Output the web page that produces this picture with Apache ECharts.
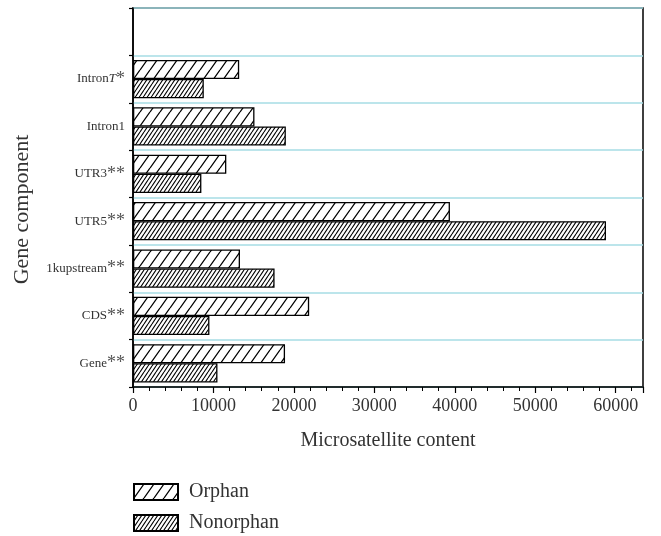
<!DOCTYPE html>
<html>
<head>
<meta charset="utf-8">
<script src="https://cdn.jsdelivr.net/npm/echarts@6/dist/echarts.min.js"></script>
<style>
  html, body { margin: 0; padding: 0; background: #fff; }
  #chart { width: 661px; height: 536px; }
</style>
</head>
<body>
<div id="chart"></div>
<script>
// Gene components, bottom to top; the top slot is left empty.
const categories = ['Gene**', 'CDS**', '1kupstream**', 'UTR5**', 'UTR3**', 'Intron1', 'IntronT*', ''];
const orphan    = [18900, 21900, 13300, 39400, 11600, 15100, 13200, null];
const nonorphan = [10500,  9500, 17600, 58800,  8500, 19000,  8800, null];
const xTicks = { min: 0, max: 63400, interval: 10000 };

const SERIF = '"Liberation Serif", "DejaVu Serif", serif';

// Diagonal hatch tile: "/" strokes repeating every w pixels.
function hatch(w, h, lw) {
  const c = document.createElement('canvas');
  c.width = w; c.height = h;
  const g = c.getContext('2d');
  g.fillStyle = '#fff';
  g.fillRect(0, 0, w, h);
  g.strokeStyle = '#000';
  g.lineWidth = lw;
  g.beginPath();
  for (const dx of [-w, 0, w]) {
    g.moveTo(dx, h);
    g.lineTo(dx + w, 0);
  }
  g.stroke();
  return c;
}

const sparseFill = { image: hatch(10, 14, 1.3), repeat: 'repeat' };
const denseFill  = { image: hatch(4, 6, 1.1), repeat: 'repeat' };

// Category label: plain name, optional italic T, enlarged significance stars.
function catLabel(v) {
  if (!v) return '';
  const m = v.match(/^(.*?)(\*+)$/);
  const name = m ? m[1] : v;
  const stars = m ? m[2] : '';
  let out = name === 'IntronT' ? '{n|Intron}{it|T}' : '{n|' + name + '}';
  if (stars) out += '{s|' + stars + '}';
  return out;
}

const chart = echarts.init(document.getElementById('chart'), null, { renderer: 'canvas' });
chart.setOption({
  animation: false,
  backgroundColor: '#fff',
  grid: {
    left: 133, right: 18, top: 8, bottom: 149,
    show: true, borderColor: '#000', borderWidth: 1.5, backgroundColor: 'transparent'
  },
  legend: {
    data: ['Orphan', 'Nonorphan'],
    orient: 'vertical',
    left: 133, top: 482, height: 120,
    padding: 0,
    itemWidth: 44, itemHeight: 16, itemGap: 11,
    icon: 'rect',
    textStyle: { fontFamily: SERIF, fontSize: 20, lineHeight: 17, color: '#333', padding: [0, 0, 0, 6] }
  },
  xAxis: {
    type: 'value',
    min: xTicks.min, max: xTicks.max, interval: xTicks.interval,
    name: 'Microsatellite content',
    nameLocation: 'middle', nameGap: 44,
    nameTextStyle: { fontFamily: SERIF, fontSize: 20, color: '#333' },
    axisLine: { show: true, lineStyle: { color: '#000', width: 1.5 } },
    axisTick: { show: true, length: 6, lineStyle: { color: '#000', width: 1.2 } },
    minorTick: { show: true, splitNumber: 5, length: 4, lineStyle: { color: '#000', width: 1 } },
    axisLabel: {
      fontFamily: SERIF, fontSize: 18, color: '#333', margin: 10,
      showMaxLabel: false,
      formatter: v => String(v)
    },
    splitLine: { show: false }
  },
  yAxis: {
    type: 'category',
    data: categories,
    name: 'Gene component',
    nameLocation: 'middle', nameGap: 100,
    nameTextStyle: { fontFamily: SERIF, fontSize: 22, color: '#333', padding: [0, 24, 0, 0] },
    axisLine: { show: true, lineStyle: { color: '#000', width: 1.5 } },
    axisTick: { show: true, length: 4, lineStyle: { color: '#000', width: 1.2 } },
    axisLabel: {
      margin: 8,
      formatter: catLabel,
      rich: {
        n:  { fontFamily: SERIF, fontSize: 13, color: '#333' },
        it: { fontFamily: SERIF, fontSize: 13, fontStyle: 'italic', color: '#333' },
        s:  { fontFamily: SERIF, fontSize: 18, color: '#555' }
      }
    },
    splitLine: { show: true, lineStyle: { color: '#a6dde4', width: 1.5 } }
  },
  series: [
    {
      name: 'Orphan', type: 'bar', data: orphan,
      barGap: '0%', barCategoryGap: '19%',
      itemStyle: { color: sparseFill, borderColor: '#000', borderWidth: 1.3 }
    },
    {
      name: 'Nonorphan', type: 'bar', data: nonorphan,
      barGap: '0%', barCategoryGap: '19%',
      itemStyle: { color: denseFill, borderColor: '#000', borderWidth: 1.3 }
    }
  ]
});
</script>
</body>
</html>
